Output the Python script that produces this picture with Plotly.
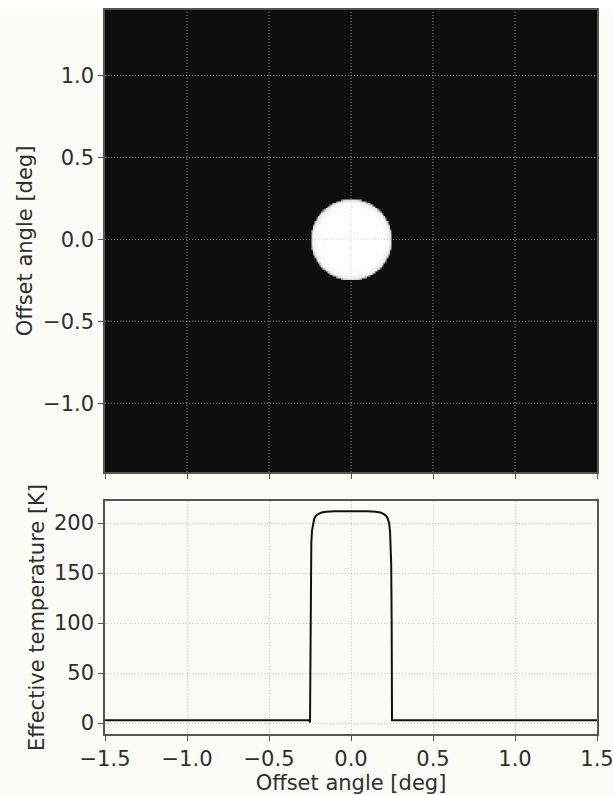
import numpy as np
import plotly.graph_objects as go

# ---- data ----
offset_deg = [-1.5, -0.255, -0.25, -0.247, -0.245, -0.242, -0.238, -0.232, -0.225,
              -0.215, -0.2, -0.18, -0.15, -0.1, 0.0, 0.1, 0.15, 0.18, 0.2, 0.215,
              0.225, 0.232, 0.238, 0.242, 0.245, 0.248, 0.25, 1.5]
temperature_K = [2.7, 2.7, 0.5, 100, 160, 180, 192, 200, 204,
                 207, 209, 210.5, 211.3, 211.8, 212, 211.8, 211.3, 210.5, 209, 207,
                 204, 200, 192, 180, 160, 100, 2.7, 2.7]

xtick_vals = [-1.5, -1.0, -0.5, 0.0, 0.5, 1.0, 1.5]
xtick_text = ["\u22121.5", "\u22121.0", "\u22120.5", "0.0", "0.5", "1.0", "1.5"]
ytop_vals = [-1.0, -0.5, 0.0, 0.5, 1.0]
ytop_text = ["\u22121.0", "\u22120.5", "0.0", "0.5", "1.0"]
ybot_vals = [0, 50, 100, 150, 200]
ybot_text = ["0", "50", "100", "150", "200"]

# image grid: brightness map built from the radial profile above
grid = np.linspace(-1.5, 1.5, 301)
gx, gy = np.meshgrid(grid, grid)
r = np.sqrt(gx ** 2 + gy ** 2)
prof_r = [o for o in offset_deg if o >= 0]
prof_t = [t for o, t in zip(offset_deg, temperature_K) if o >= 0]
img = np.interp(r, prof_r, prof_t)

TXT = "#2e2e2e"
FR = "#555555"
BG = "#fcfcf6"
FONT = "DejaVu Sans"
FS = 21

fig = go.Figure()
fig.add_trace(go.Heatmap(x=grid, y=grid, z=img, zmin=0, zmax=212,
                         colorscale=[[0, "#0b0b0b"], [1, "#ffffff"]],
                         showscale=False, zsmooth="best",
                         xaxis="x", yaxis="y", hoverinfo="skip"))
fig.add_trace(go.Scatter(x=offset_deg, y=temperature_K, mode="lines",
                         line=dict(color="#111111", width=2),
                         xaxis="x2", yaxis="y2", showlegend=False))

H = 795.0
top_dom = [1 - 472 / H, 1 - 10 / H]
bot_dom = [1 - 734 / H, 1 - 501 / H]

common_ax = dict(showline=True, linecolor=FR, linewidth=1.5, mirror=True,
                 ticks="outside", ticklen=5, tickwidth=1.2, tickcolor=FR,
                 tickfont=dict(family=FONT, size=FS, color=TXT), zeroline=False,
                 ticklabeloverflow="allow")

fig.update_layout(
    width=613, height=795,
    margin=dict(l=105, r=16, t=0, b=0),
    paper_bgcolor=BG, plot_bgcolor=BG,
    font=dict(family=FONT, size=FS, color=TXT),
    showlegend=False,
    xaxis=dict(domain=[0, 1], range=[-1.5, 1.5], anchor="y",
               tickvals=xtick_vals, ticktext=xtick_text, showticklabels=False,
               showgrid=False, **common_ax),
    yaxis=dict(domain=top_dom, range=[-1.42, 1.40], anchor="x",
               tickvals=ytop_vals, ticktext=ytop_text, showgrid=False,
               title=dict(text="Offset angle [deg]", standoff=5,
                          font=dict(family=FONT, size=FS, color=TXT)),
               **common_ax),
    xaxis2=dict(domain=[0, 1], range=[-1.5, 1.5], anchor="y2",
                tickvals=xtick_vals, ticktext=xtick_text,
                showgrid=True, gridcolor="#c4c4c4", griddash="1px,2px", gridwidth=1,
                title=dict(text="Offset angle [deg]", standoff=0,
                           font=dict(family=FONT, size=FS, color=TXT)),
                **common_ax),
    yaxis2=dict(domain=bot_dom, range=[-11, 222], anchor="x2",
                tickvals=ybot_vals, ticktext=ybot_text,
                showgrid=True, gridcolor="#c4c4c4", griddash="1px,2px", gridwidth=1,
                title=dict(text="Effective temperature [K]", standoff=4,
                           font=dict(family=FONT, size=FS, color=TXT)),
                **common_ax),
)

# dotted grid drawn above the image in the top panel
shapes = []
for v in xtick_vals[1:-1]:
    shapes.append(dict(type="line", xref="x", yref="y domain", x0=v, x1=v, y0=0, y1=1,
                       line=dict(color="rgba(200,200,200,0.7)", width=1, dash="1px,2px"),
                       layer="above"))
for v in ytop_vals:
    shapes.append(dict(type="line", xref="x domain", yref="y", x0=0, x1=1, y0=v, y1=v,
                       line=dict(color="rgba(200,200,200,0.7)", width=1, dash="1px,2px"),
                       layer="above"))
# white strip at the very top of the picture
shapes.append(dict(type="rect", xref="paper", yref="paper", x0=-0.3, x1=1.1,
                   y0=1 - 10 / H, y1=1.0, fillcolor="#ffffff", line=dict(width=0),
                   layer="below"))
fig.update_layout(shapes=shapes)

fig.add_annotation(text="(", xref="paper", yref="paper", x=(610 - 105) / 492,
                   y=1 - 290 / H, xanchor="left", yanchor="middle", showarrow=False,
                   font=dict(family=FONT, size=FS, color="#777777"))

fig.write_html("out.html")
